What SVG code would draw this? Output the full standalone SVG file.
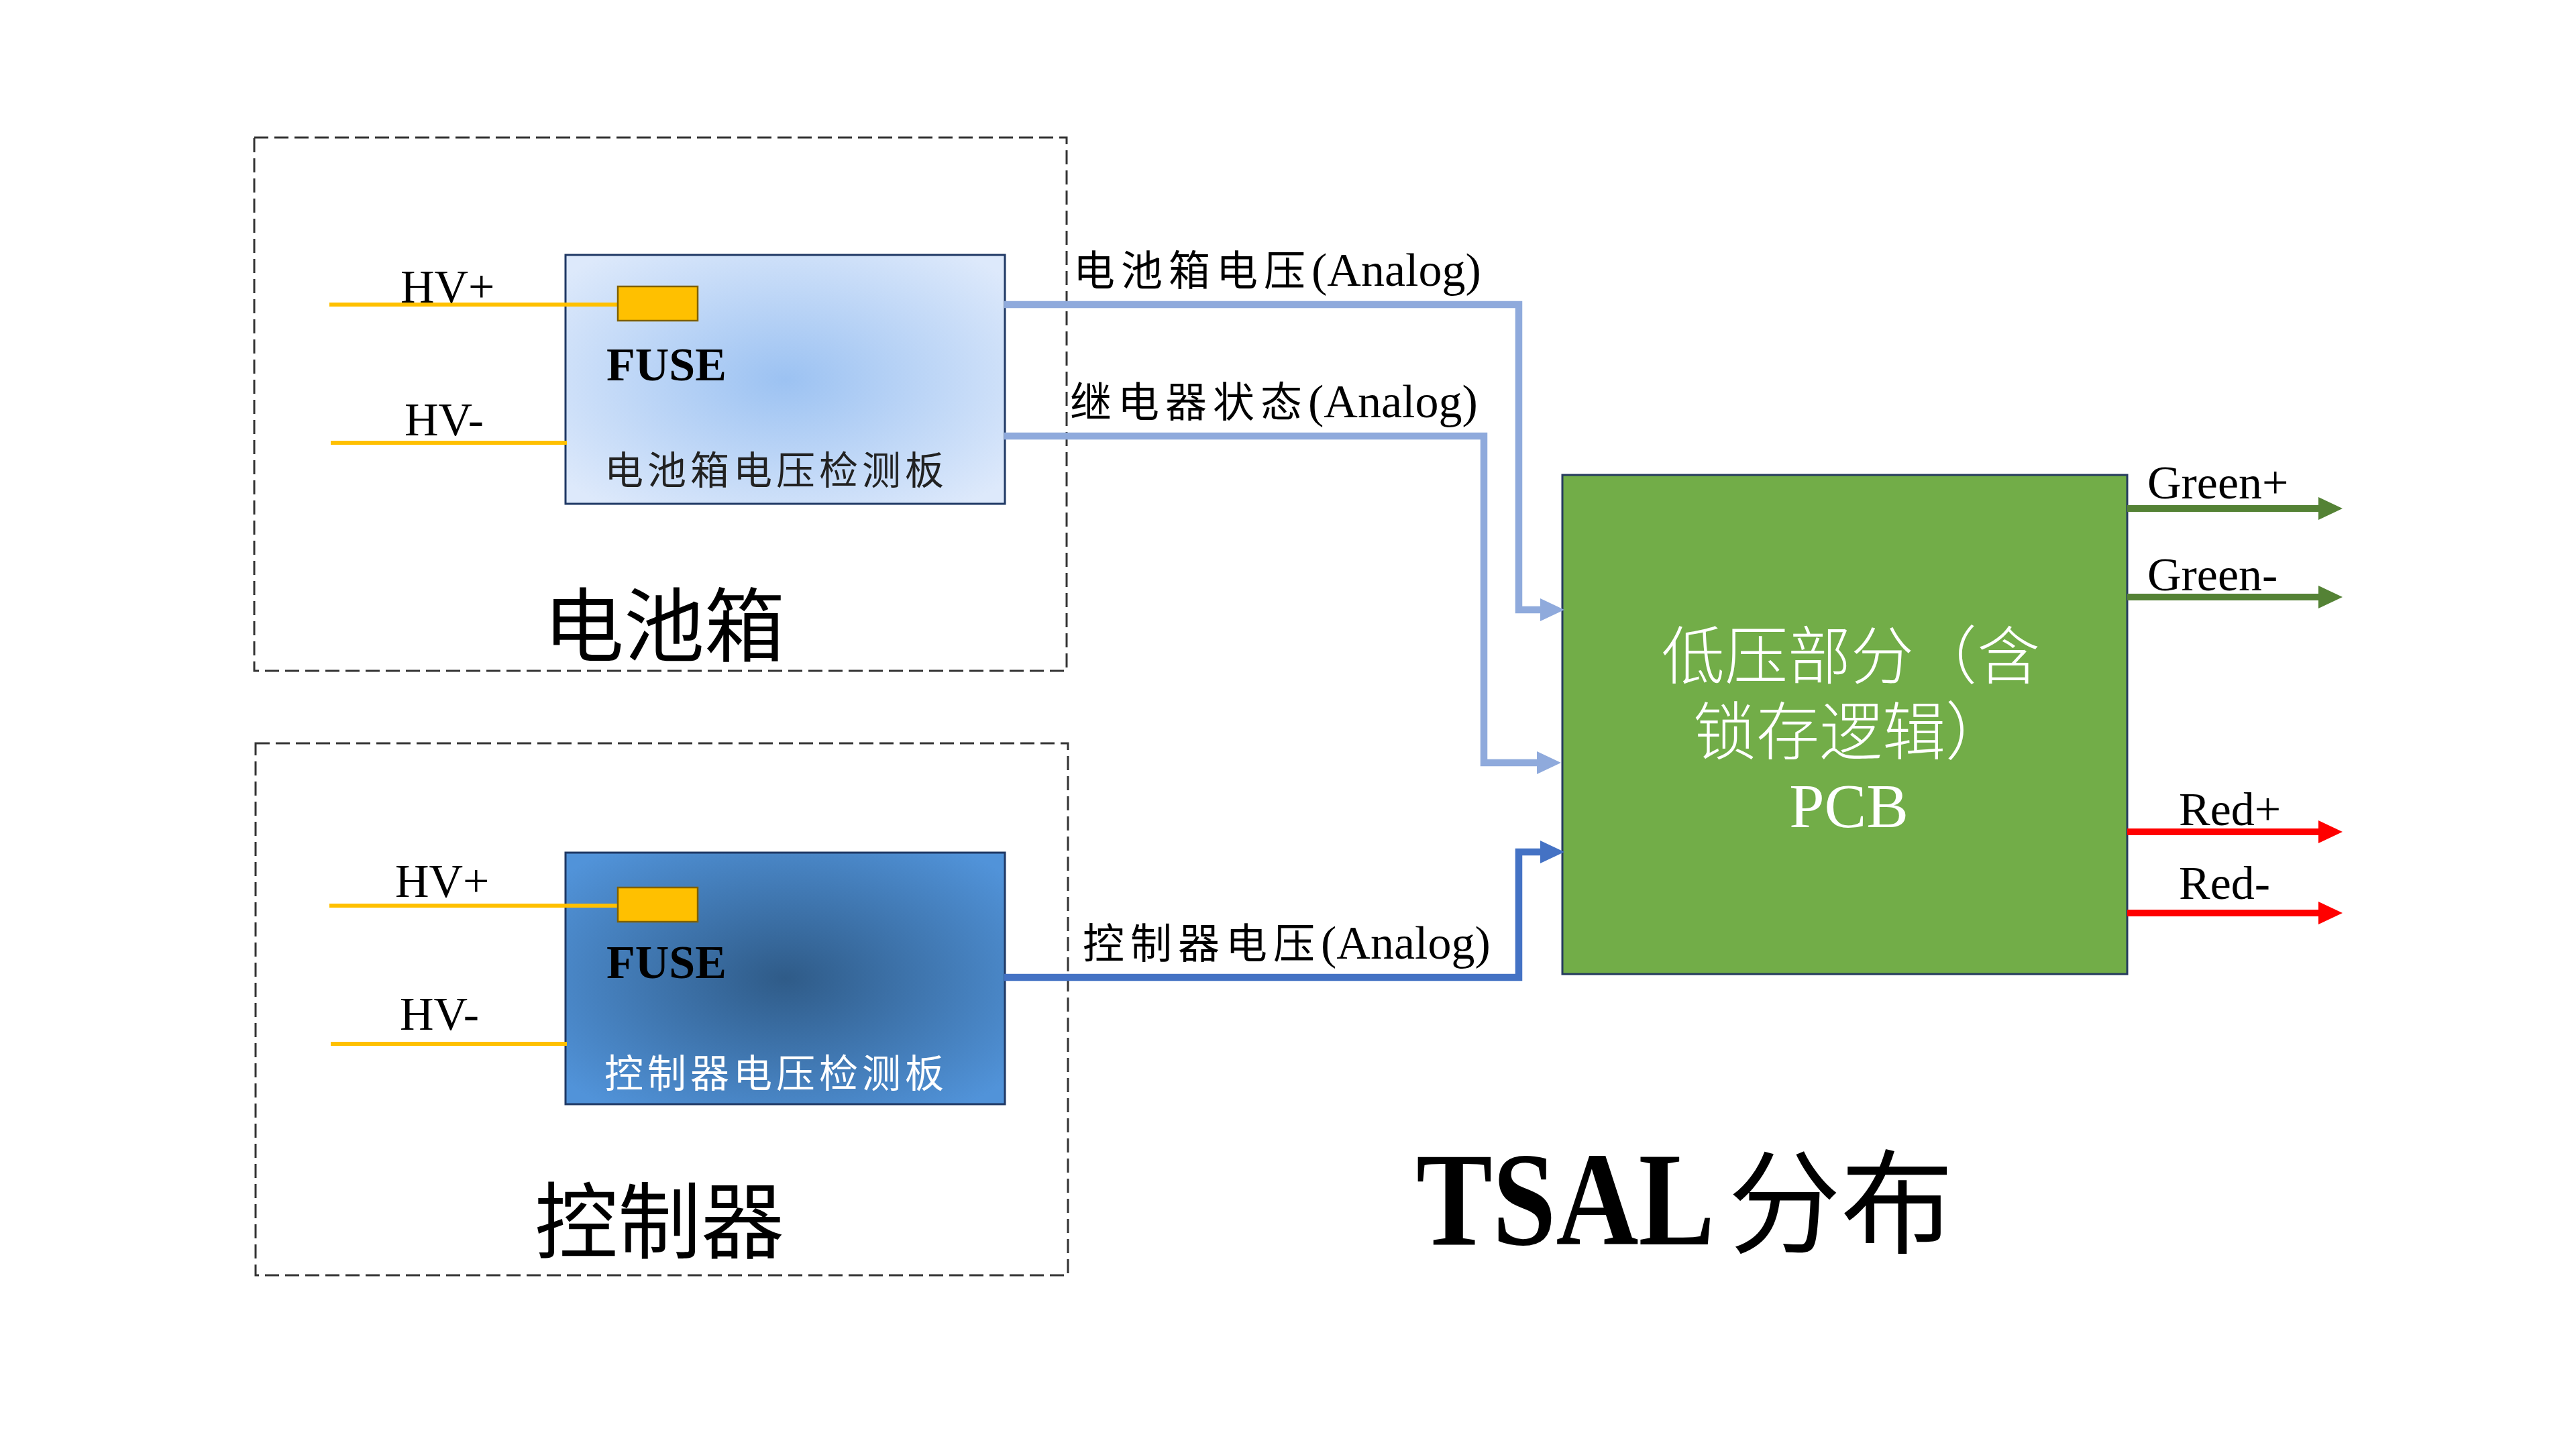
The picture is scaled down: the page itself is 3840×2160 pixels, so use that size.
<svg xmlns="http://www.w3.org/2000/svg" width="3840" height="2160" viewBox="0 0 3840 2160">
<defs>
  <radialGradient id="gLight" cx="50%" cy="50%" r="65%">
    <stop offset="0" stop-color="#9CC2F2"/>
    <stop offset="1" stop-color="#DDE9FB"/>
  </radialGradient>
  <radialGradient id="gDark" cx="50%" cy="50%" r="65%">
    <stop offset="0" stop-color="#2F5B88"/>
    <stop offset="1" stop-color="#5193D9"/>
  </radialGradient>
  <marker id="aLight" markerUnits="userSpaceOnUse" markerWidth="40" markerHeight="40" refX="16" refY="17" orient="auto">
    <path d="M0,0 L36,17 L0,34 Z" fill="#8FAADC"/>
  </marker>
  <marker id="aDark" markerUnits="userSpaceOnUse" markerWidth="40" markerHeight="40" refX="16" refY="17" orient="auto">
    <path d="M0,0 L36,17 L0,34 Z" fill="#4472C4"/>
  </marker>
  <marker id="aGreen" markerUnits="userSpaceOnUse" markerWidth="40" markerHeight="40" refX="16" refY="17" orient="auto">
    <path d="M0,0 L36,17 L0,34 Z" fill="#548235"/>
  </marker>
  <marker id="aRed" markerUnits="userSpaceOnUse" markerWidth="40" markerHeight="40" refX="16" refY="17" orient="auto">
    <path d="M0,0 L36,17 L0,34 Z" fill="#FF0000"/>
  </marker>
</defs>
<style>
  .dash { fill: none; stroke: #333333; stroke-width: 3; stroke-dasharray: 21 9; }
  .board { stroke: #1F3864; stroke-width: 3; }
  .fuse { fill: #FFC000; stroke: #7F6000; stroke-width: 2.5; }
  .hv { stroke: #FFC000; stroke-width: 6; fill: none; }
  .lat { font-family: "Liberation Serif", "Times New Roman", serif; fill: #000; }
  .cjk { font-family: "Noto Sans CJK SC", "Noto Sans", sans-serif; }
  .conn { fill: none; stroke-width: 10.5; stroke-linejoin: miter; }
  .out { fill: none; stroke-width: 10; }
</style>
<rect x="0" y="0" width="3840" height="2160" fill="#FFFFFF"/>

<g id="battery-box">
  <rect class="dash" x="379" y="205" width="1211" height="795"/>
  <text class="cjk" x="990" y="977" font-size="120" text-anchor="middle" fill="#000">电池箱</text>
</g>

<g id="battery-board">
  <rect class="board" x="843" y="380" width="655" height="371" fill="url(#gLight)"/>
  <line class="hv" x1="491" y1="454" x2="921" y2="454"/>
  <line class="hv" x1="493" y1="660" x2="845" y2="660"/>
  <rect class="fuse" x="921" y="427" width="119" height="51"/>
  <text class="lat" x="597" y="451" font-size="70">HV+</text>
  <text class="lat" x="603" y="649" font-size="70">HV-</text>
  <text class="lat" x="904" y="567" font-size="70" font-weight="bold">FUSE</text>
  <text class="cjk" x="901" y="722" font-size="58" letter-spacing="6" fill="#222">电池箱电压检测板</text>
</g>

<g id="controller-box">
  <rect class="dash" x="381" y="1108" width="1211" height="793"/>
  <text class="cjk" x="983" y="1866" font-size="124" text-anchor="middle" fill="#000">控制器</text>
</g>

<g id="controller-board">
  <rect class="board" x="843" y="1271" width="655" height="375" fill="url(#gDark)"/>
  <line class="hv" x1="491" y1="1350" x2="921" y2="1350"/>
  <line class="hv" x1="493" y1="1556" x2="845" y2="1556"/>
  <rect class="fuse" x="921" y="1323" width="119" height="51"/>
  <text class="lat" x="589" y="1337" font-size="70">HV+</text>
  <text class="lat" x="596" y="1535" font-size="70">HV-</text>
  <text class="lat" x="904" y="1458" font-size="70" font-weight="bold">FUSE</text>
  <text class="cjk" x="901" y="1621" font-size="58" letter-spacing="6" fill="#FFFFFF">控制器电压检测板</text>
</g>

<g id="pcb">
  <rect x="2329" y="708" width="842" height="744" fill="#72AD48" stroke="#253A5E" stroke-width="3"/>
  <text class="cjk" font-size="94" font-weight="300" text-anchor="middle" fill="#FFFFFF"><tspan x="2759" y="1012">低压部分（含</tspan><tspan x="2759" y="1125">锁存逻辑）</tspan><tspan x="2756" y="1233" font-family="Liberation Serif, serif" font-weight="normal">PCB</tspan></text>
</g>

<g id="connectors">
  <path class="conn" stroke="#8FAADC" d="M1497,454 H2264 V909 H2312" marker-end="url(#aLight)"/>
  <path class="conn" stroke="#8FAADC" d="M1497,650 H2212 V1137 H2307" marker-end="url(#aLight)"/>
  <path class="conn" stroke="#4472C4" d="M1497,1457 H2264 V1270 H2312" marker-end="url(#aDark)"/>
  <path class="out" stroke="#548235" d="M3171,758 H3472" marker-end="url(#aGreen)"/>
  <path class="out" stroke="#548235" d="M3171,890 H3472" marker-end="url(#aGreen)"/>
  <path class="out" stroke="#FF0000" d="M3171,1240 H3472" marker-end="url(#aRed)"/>
  <path class="out" stroke="#FF0000" d="M3171,1361 H3472" marker-end="url(#aRed)"/>
</g>

<g id="connector-labels">
  <text y="426" fill="#000"><tspan class="cjk" x="1600" font-size="62" letter-spacing="9">电池箱电压</tspan><tspan class="lat" font-size="70">(Analog)</tspan></text>
  <text y="622" fill="#000"><tspan class="cjk" x="1595" font-size="62" letter-spacing="9">继电器状态</tspan><tspan class="lat" font-size="70">(Analog)</tspan></text>
  <text y="1429" fill="#000"><tspan class="cjk" x="1614" font-size="62" letter-spacing="9">控制器电压</tspan><tspan class="lat" font-size="70">(Analog)</tspan></text>
  <text class="lat" x="3201" y="743" font-size="70">Green+</text>
  <text class="lat" x="3201" y="880" font-size="70">Green-</text>
  <text class="lat" x="3248" y="1230" font-size="70">Red+</text>
  <text class="lat" x="3248" y="1340" font-size="70">Red-</text>
</g>

<g id="title">
  <text class="lat" font-size="200" font-weight="bold" transform="translate(2111,1855) scale(0.852,1)">TSAL</text>
  <text class="cjk" x="2576" y="1855" font-size="168" fill="#000">分布</text>
</g>
</svg>
